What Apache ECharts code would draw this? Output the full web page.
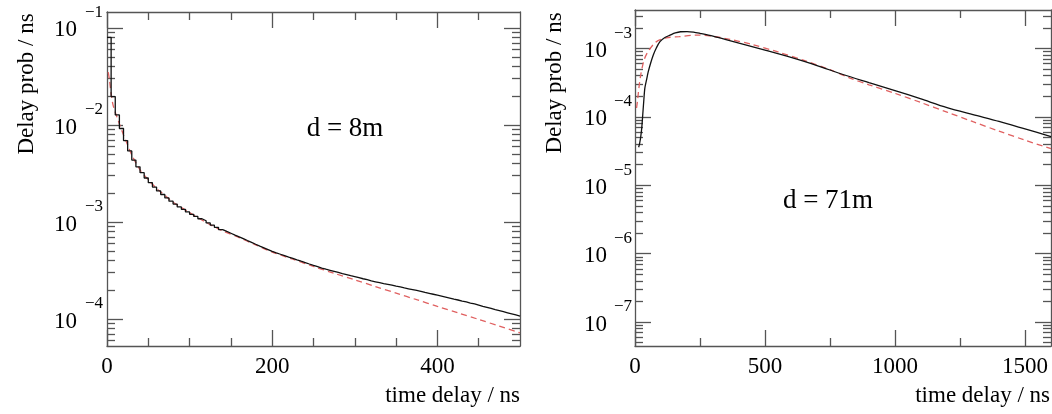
<!DOCTYPE html>
<html><head><meta charset="utf-8">
<script src="https://cdn.jsdelivr.net/npm/echarts@6/dist/echarts.min.js"></script>
<style>html,body{margin:0;padding:0;background:#fff}#c{width:1052px;height:414px}</style>
</head><body><div id="c"></div>
<script>
// ---------- data ----------
const leftBinWidth = 5; // ns
const leftHist = [
 0.080, 0.0196, 0.0127, 0.0092, 0.0069, 0.0054, 0.00435, 0.0037, 0.00322, 0.00284,
 0.00254, 0.00229, 0.00209, 0.00192, 0.00177, 0.00164, 0.00153, 0.00143, 0.00135, 0.00127,
 0.00120, 0.00114, 0.00108, 0.00103, 0.000977, 0.000927, 0.000881, 0.000836, 0.000800, 0.000766,
 0.000733, 0.000703, 0.000673, 0.000644, 0.000617, 0.000590, 0.000565, 0.000542, 0.000519, 0.000497,
 0.000480, 0.000465, 0.000450, 0.000435, 0.000421, 0.000407, 0.000394, 0.000382, 0.000369, 0.000357,
 0.000346, 0.000335, 0.000326, 0.000318, 0.000310, 0.000302, 0.000294, 0.000287, 0.000280, 0.000274,
 0.000267, 0.000260, 0.000254, 0.000247, 0.000242, 0.000237, 0.000232, 0.000228, 0.000223, 0.000218,
 0.000214, 0.000209, 0.000205, 0.000201, 0.000197, 0.000193, 0.000188, 0.000184, 0.000180, 0.000176,
 0.000172, 0.000168, 0.000164, 0.000160, 0.000157, 0.000153, 0.000150, 0.000146, 0.000143, 0.000139,
 0.000135, 0.000132, 0.000129, 0.000125, 0.000122, 0.000119, 0.000116, 0.000113, 0.000110, 0.000107
];
const leftModelT = [1.5, 3, 5, 7, 10, 13, 16, 20, 25, 30, 40, 50, 60, 70, 80, 100, 120, 140, 160, 180, 200, 225, 250, 275, 300, 325, 350, 375, 400, 425, 450, 475, 500];
const leftModelV = [0.035, 0.029, 0.021, 0.0165, 0.0135, 0.0115, 0.0097, 0.0079, 0.0062, 0.0049, 0.00345, 0.00272, 0.00222, 0.00188, 0.0016, 0.00125, 0.00099, 0.00081, 0.00069, 0.00058, 0.00049, 0.000413, 0.000348, 0.000296, 0.000253, 0.000216, 0.000185, 0.000158, 0.000135, 0.0001156, 0.000099, 0.0000845, 0.000072];

const rightDataT = [14, 18, 22, 26, 30, 34, 38, 45, 51, 60, 70, 82, 96, 115, 135, 155, 175, 200, 225, 250, 300, 350, 400, 450, 500, 600, 700, 800, 900, 1000, 1100, 1200, 1300, 1400, 1500, 1600];
const rightDataV = [3.6e-5, 4.15e-5, 5.1e-5, 6.9e-5, 1.10e-4, 1.77e-4, 2.65e-4, 3.58e-4, 4.58e-4, 6.1e-4, 8.0e-4, 1.02e-3, 1.26e-3, 1.45e-3, 1.57e-3, 1.69e-3, 1.76e-3, 1.77e-3, 1.74e-3, 1.67e-3, 1.52e-3, 1.35e-3, 1.20e-3, 1.07e-3, 9.5e-4, 7.4e-4, 5.64e-4, 4.17e-4, 3.18e-4, 2.43e-4, 1.83e-4, 1.37e-4, 1.08e-4, 8.57e-5, 6.66e-5, 5.16e-5];
const rightModelT = [6, 10, 15, 22, 35, 50, 80, 120, 170, 237, 300, 365, 450, 550, 650, 750, 827, 900, 1000, 1100, 1200, 1300, 1400, 1500, 1600];
const rightModelV = [1.35e-4, 1.77e-4, 2.65e-4, 4.1e-4, 6.8e-4, 8.98e-4, 1.24e-3, 1.43e-3, 1.49e-3, 1.57e-3, 1.51e-3, 1.36e-3, 1.15e-3, 8.9e-4, 6.7e-4, 4.9e-4, 3.7e-4, 2.95e-4, 2.21e-4, 1.62e-4, 1.175e-4, 8.5e-5, 6.2e-5, 4.57e-5, 3.43e-5];

// ---------- axes ticks ----------
const leftXRange = [0, 500];
const rightXRange = [0, 1600];
const leftYRange = [5.27e-5, 0.146];
const rightYRange = [4.46e-8, 3.66e-3];
const leftXMajor = [0, 200, 400];
const leftXMinor = [50, 100, 150, 250, 300, 350, 450];
const rightXMajor = [0, 500, 1000, 1500];
const rightXMinor = [250, 750, 1250];
const leftYMajor = [1e-4, 1e-3, 1e-2, 1e-1];
const leftYMinor = [6e-5, 7e-5, 8e-5, 9e-5,
  2e-4, 3e-4, 4e-4, 5e-4, 6e-4, 7e-4, 8e-4, 9e-4,
  2e-3, 3e-3, 4e-3, 5e-3, 6e-3, 7e-3, 8e-3, 9e-3,
  2e-2, 3e-2, 4e-2, 5e-2, 6e-2, 7e-2, 8e-2, 9e-2];
const rightYMajor = [1e-7, 1e-6, 1e-5, 1e-4, 1e-3];
const rightYMinor = [5e-8, 6e-8, 7e-8, 8e-8, 9e-8,
  2e-7, 3e-7, 4e-7, 5e-7, 6e-7, 7e-7, 8e-7, 9e-7,
  2e-6, 3e-6, 4e-6, 5e-6, 6e-6, 7e-6, 8e-6, 9e-6,
  2e-5, 3e-5, 4e-5, 5e-5, 6e-5, 7e-5, 8e-5, 9e-5,
  2e-4, 3e-4, 4e-4, 5e-4, 6e-4, 7e-4, 8e-4, 9e-4,
  2e-3, 3e-3];
const panelLabels = ['d = 8m', 'd = 71m'];
const xTitle = 'time delay / ns';
const yTitle = 'Delay prob / ns';

// ---------- styling ----------
const FONT = "'Liberation Serif','Times New Roman',serif";
const AX = '#555';
const AXW = 1.3;
const lineSt = {color: AX, width: AXW};

function xAxes(grid, range, major, minor) {
  const base = {type: 'value', gridIndex: grid, min: range[0], max: range[1],
    splitLine: {show: false}, axisLine: {show: false, onZero: false},
    axisTick: {show: false}, axisLabel: {show: false}};
  return [
    Object.assign({}, base, {position: 'bottom',
      axisLine: {show: true, onZero: false, lineStyle: lineSt},
      axisTick: {show: true, inside: true, length: 16, customValues: major, lineStyle: lineSt},
      axisLabel: {show: true, customValues: major, margin: 9, color: '#000', fontFamily: FONT, fontSize: 23,
        formatter: function (v) { return String(v); }}}),
    Object.assign({}, base, {position: 'bottom',
      axisTick: {show: true, inside: true, length: 8, customValues: minor, lineStyle: lineSt}}),
    Object.assign({}, base, {position: 'top',
      axisLine: {show: true, onZero: false, lineStyle: lineSt},
      axisTick: {show: true, inside: true, length: 16, customValues: major, lineStyle: lineSt}}),
    Object.assign({}, base, {position: 'top',
      axisTick: {show: true, inside: true, length: 8, customValues: minor, lineStyle: lineSt}})
  ];
}
function yAxes(grid, range, major, minor, baseMargin, expMargin) {
  const base = {type: 'log', logBase: 10, gridIndex: grid, min: range[0], max: range[1],
    splitLine: {show: false}, axisLine: {show: false, onZero: false},
    axisTick: {show: false}, axisLabel: {show: false}};
  return [
    Object.assign({}, base, {position: 'left',
      axisLine: {show: true, onZero: false, lineStyle: lineSt},
      axisTick: {show: true, inside: true, length: 16, customValues: major, lineStyle: lineSt},
      axisLabel: {show: true, customValues: major, margin: baseMargin,
        formatter: function () { return '{b|10}'; },
        rich: {b: {fontFamily: FONT, fontSize: 23, color: '#000', padding: [5, 0, 0, 0]}}}}),
    Object.assign({}, base, {position: 'left',
      axisLabel: {show: true, customValues: major, margin: expMargin,
        formatter: function (v) { return '{e|\u2212' + Math.abs(Math.round(Math.log10(v))) + '}'; },
        rich: {e: {fontFamily: FONT, fontSize: 17, color: '#000', padding: [0, 0, 30, 0]}}}}),
    Object.assign({}, base, {position: 'left',
      axisTick: {show: true, inside: true, length: 8, customValues: minor, lineStyle: lineSt}}),
    Object.assign({}, base, {position: 'right',
      axisLine: {show: true, onZero: false, lineStyle: lineSt},
      axisTick: {show: true, inside: true, length: 16, customValues: major, lineStyle: lineSt}}),
    Object.assign({}, base, {position: 'right',
      axisTick: {show: true, inside: true, length: 8, customValues: minor, lineStyle: lineSt}})
  ];
}

const histData = leftHist.map(function (v, i) { return [i * leftBinWidth, v]; });
histData.push([leftHist.length * leftBinWidth, leftHist[leftHist.length - 1]]);
const zip = function (a, b) { return a.map(function (t, i) { return [t, b[i]]; }); };

const dataStyle = {color: '#111', width: 1.3};
const modelStyle = {color: '#e06060', width: 1.3, type: [6, 4]};

const option = {
  animation: false,
  backgroundColor: '#fff',
  grid: [
    {left: 107, top: 12, width: 413, height: 334, outerBoundsMode: 'none'},
    {left: 635, top: 10, width: 416, height: 336, outerBoundsMode: 'none'}
  ],
  xAxis: xAxes(0, leftXRange, leftXMajor, leftXMinor).concat(xAxes(1, rightXRange, rightXMajor, rightXMinor)),
  yAxis: yAxes(0, leftYRange, leftYMajor, leftYMinor, 30, 4).concat(yAxes(1, rightYRange, rightYMajor, rightYMinor, 28, 3)),
  series: [
    {type: 'line', xAxisIndex: 0, yAxisIndex: 0, data: histData, step: 'end', showSymbol: false, symbol: 'none', lineStyle: dataStyle, z: 3},
    {type: 'line', xAxisIndex: 0, yAxisIndex: 0, data: zip(leftModelT, leftModelV), smooth: 0.3, showSymbol: false, symbol: 'none', lineStyle: modelStyle, z: 2},
    {type: 'line', xAxisIndex: 4, yAxisIndex: 5, data: zip(rightDataT, rightDataV), smooth: 0.3, showSymbol: false, symbol: 'none', lineStyle: dataStyle, z: 3},
    {type: 'line', xAxisIndex: 4, yAxisIndex: 5, data: zip(rightModelT, rightModelV), smooth: 0.3, showSymbol: false, symbol: 'none', lineStyle: modelStyle, z: 2}
  ],
  graphic: [
    {type: 'text', x: 27, y: 84, rotation: Math.PI / 2, style: {text: yTitle, fontFamily: FONT, fontSize: 23, fill: '#000', align: 'center', verticalAlign: 'middle'}},
    {type: 'text', x: 555, y: 83, rotation: Math.PI / 2, style: {text: yTitle, fontFamily: FONT, fontSize: 23, fill: '#000', align: 'center', verticalAlign: 'middle'}},
    {type: 'text', x: 520, y: 396, style: {text: xTitle, fontFamily: FONT, fontSize: 23, fill: '#000', align: 'right', verticalAlign: 'middle'}},
    {type: 'text', x: 1050, y: 396, style: {text: xTitle, fontFamily: FONT, fontSize: 23, fill: '#000', align: 'right', verticalAlign: 'middle'}},
    {type: 'text', x: 345, y: 129, style: {text: panelLabels[0], fontFamily: FONT, fontSize: 27, fill: '#000', align: 'center', verticalAlign: 'middle'}},
    {type: 'text', x: 828, y: 201, style: {text: panelLabels[1], fontFamily: FONT, fontSize: 27, fill: '#000', align: 'center', verticalAlign: 'middle'}}
  ]
};
const chart = echarts.init(document.getElementById('c'), null, {renderer: 'canvas'});
chart.setOption(option);
</script>
</body></html>
